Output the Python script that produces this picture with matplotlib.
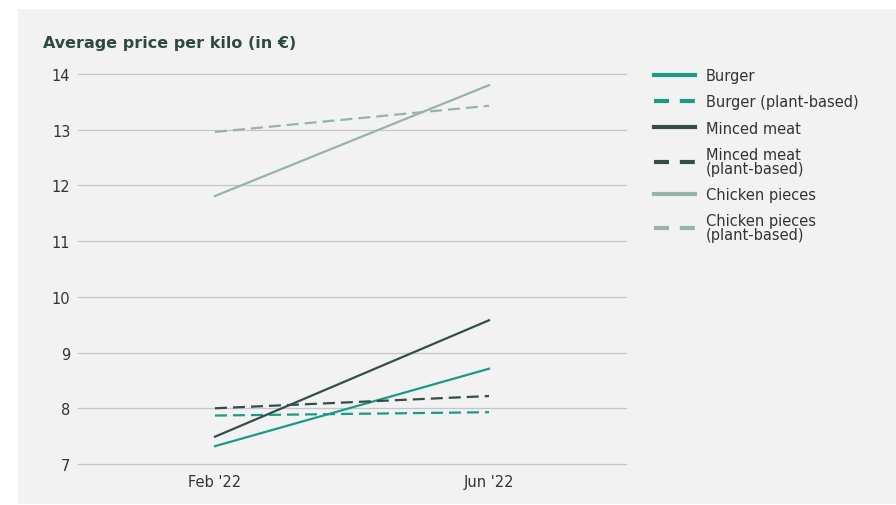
import matplotlib.pyplot as plt
from matplotlib.patches import Rectangle

# prices per kilo, Feb '22 and Jun '22
months = ["Feb '22", "Jun '22"]
burger = [7.32, 8.71]
burger_plant = [7.87, 7.93]
minced = [7.49, 9.58]
minced_plant = [8.00, 8.22]
chicken = [11.81, 13.80]
chicken_plant = [12.96, 13.43]
labels = ["Burger", "Burger (plant-based)", "Minced meat", "Minced meat\n(plant-based)",
          "Chicken pieces", "Chicken pieces\n(plant-based)"]

teal = "#1b9a86"
dark = "#354d48"
light = "#97b4a9"
bg = "#f2f2f2"
text_col = "#333333"

plt.rcParams['font.family'] = ['DejaVu Sans']

fig = plt.figure(figsize=(8.96, 5.06), dpi=100)
fig.patch.set_facecolor("white")
# grey panel behind everything
fig.patches.append(Rectangle((18 / 896, 1 - 505 / 506), (896 - 18) / 896, (505 - 10) / 506,
                             transform=fig.transFigure, facecolor=bg, edgecolor="none", zorder=-5))

ax = fig.add_axes([78 / 896, 1 - 465 / 506, (626 - 78) / 896, (465 - 75) / 506])
ax.set_facecolor("none")

x = range(len(months))
series = [burger, burger_plant, minced, minced_plant, chicken, chicken_plant]
colors = [teal, teal, dark, dark, light, light]
styles = ["-", (0, (5.4, 2.7)), "-", (0, (5.4, 2.7)), "-", (0, (5.4, 2.7))]
handles = []
for vals, c, ls, lab in zip(series, colors, styles, labels):
    h, = ax.plot(x, vals, color=c, linestyle=ls, linewidth=1.6, label=lab, zorder=3)
    handles.append(h)

ax.set_xlim(-0.5, 1.5)
ax.set_ylim(7, 14)
ax.set_yticks(range(7, 15))
ax.set_xticks(list(x))
ax.set_xticklabels(months)
ax.grid(axis="y", color="#c6c6c6", linewidth=0.9)
for gl in ax.get_ygridlines():
    gl.set_clip_on(False)
ax.set_axisbelow(True)
for s in ax.spines.values():
    s.set_visible(False)
ax.tick_params(length=0, labelsize=10.5, labelcolor=text_col)
ax.tick_params(axis="y", pad=5.5)
ax.tick_params(axis="x", pad=7)

fig.text(43 / 896, 1 - 44 / 506, "Average price per kilo (in €)", fontsize=11.5,
         fontweight="bold", color="#2b4a43", va="center")

leg = fig.legend(handles=handles, loc="upper left", bbox_to_anchor=(641 / 896, 1 - 56 / 506),
                 frameon=False, fontsize=10.5, handlelength=2.8, handletextpad=0.75,
                 labelspacing=0.77, labelcolor=text_col)
for line, ls in zip(leg.get_lines(), styles):
    line.set_linewidth(3)
    if ls != "-":
        line.set_linestyle((0, (3.6, 2.6)))
for t in leg.get_texts():
    t.set_linespacing(0.9)

fig.savefig("out.png", dpi=100)
